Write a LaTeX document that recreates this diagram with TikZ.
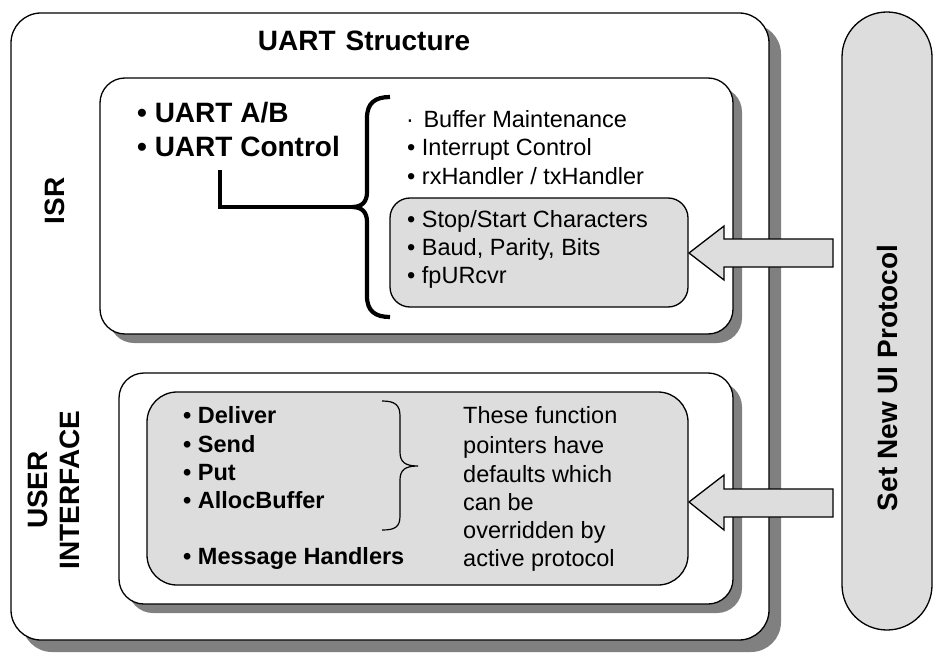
\documentclass[tikz,border=0pt]{standalone}
\usepackage{fontspec}
\setmainfont{Liberation Sans}
\definecolor{shadowc}{HTML}{808080}
\definecolor{fillc}{HTML}{DDDDDD}
\tikzset{
  wbox/.style={draw=black, line width=1.3pt, fill=white},
  gbox/.style={draw=black, line width=1.3pt, fill=fillc},
  shad/.style={fill=shadowc, draw=none},
  txt/.style={anchor=base west, inner sep=0pt, font=\fontsize{23.5}{28}\selectfont},
  btxt/.style={anchor=base west, inner sep=0pt, font=\bfseries\fontsize{23.5}{28}\selectfont},
  big/.style={anchor=base west, inner sep=0pt, font=\bfseries\fontsize{28}{32}\selectfont},
  sidelabel/.style={rotate=90, inner sep=0pt, align=center, font=\bfseries\fontsize{28}{32}\selectfont},
  blockarrow/.style={draw=black, line width=1.3pt, fill=fillc, line join=miter},
}
\begin{document}
\begin{tikzpicture}[x=1pt,y=-1pt]
\useasboundingbox (0,0) rectangle (936,655);
% outer box
\fill[shad, rounded corners=30pt] (22,24) rectangle (781,652);
\draw[wbox, rounded corners=30pt] (11,13) rectangle (769,640);
\node[font=\bfseries\fontsize{28}{32}\selectfont, anchor=base, inner sep=0pt] (title) at (364,51) {UART\hspace{10pt}Structure};
% ISR box
\fill[shad, rounded corners=25pt] (109,87) rectangle (742,343);
\draw[wbox, rounded corners=25pt] (100,78) rectangle (733,334);
\node[sidelabel] (isr) at (55,201) {ISR};
\node[big] (uab) at (137,123) {• UART A/B};
\node[big] (uctrl) at (137,157) {• UART Control};
\node[txt] (buf) at (406,128) {·\hspace{3pt} Buffer Maintenance};
\node[txt] (intc) at (407,156) {• Interrupt Control};
\node[txt] (rxh) at (407,185) {• rxHandler / txHandler};
\draw[gbox, rounded corners=20pt] (390,198) rectangle (688,307);
\node[txt] (ssc) at (407,227) {• Stop/Start Characters};
\node[txt] (bpb) at (407,255) {• Baud, Parity, Bits};
\node[txt] (fpu) at (407,283) {• fpURcvr};
% big brace
\coordinate (bt) at (352,207);
\coordinate (st) at (220,170);
\draw[line width=4.2pt, line cap=butt]
  (390,97) .. controls (375,97) and (367,103) .. (367,118) -- (367,192)
  .. controls (367,202) and (362,207) .. (bt)
  .. controls (362,207) and (367,212) .. (367,222) -- (367,296)
  .. controls (367,311) and (375,317) .. (390,317);
\draw[line width=4.2pt, line join=miter] (st) |- (bt);
% UI box
\fill[shad, rounded corners=25pt] (128,382) rectangle (742,613);
\draw[wbox, rounded corners=25pt] (119,373) rectangle (733,604);
\node[sidelabel] (ui) at (54,490) {USER\\INTERFACE};
\draw[gbox, rounded corners=30pt] (147,392) rectangle (688,585);
\node[btxt] (del) at (183,423) {• Deliver};
\node[btxt] (snd) at (183,452) {• Send};
\node[btxt] (put) at (183,480) {• Put};
\node[btxt] (alb) at (183,508) {• AllocBuffer};
\node[btxt] (msg) at (183,564) {• Message Handlers};
\draw[line width=1.2pt]
  (382,401) .. controls (395,401) and (400,405) .. (400,416) -- (400,452)
  .. controls (400,462) and (405,466) .. (418,466)
  .. controls (405,466) and (400,470) .. (400,480) -- (400,516)
  .. controls (400,527) and (395,530) .. (382,530);
\node[txt] (n1) at (463,423) {These function};
\node[txt] (n2) at (463,453) {pointers have};
\node[txt] (n3) at (463,482) {defaults which};
\node[txt] (n4) at (463,510) {can be};
\node[txt] (n5) at (463,538) {overridden by};
\node[txt] (n6) at (463,566) {active protocol};
% pill
\draw[gbox, rounded corners=45pt] (842,12) rectangle (932,630);
\node[sidelabel] (proto) at (887,378) {Set New UI Protocol};
% block arrows
\draw[blockarrow] (689,253) -- (724,226) -- (724,239) -- (833,239) -- (833,267) -- (724,267) -- (724,280) -- cycle;
\draw[blockarrow] (689,502) -- (724,475) -- (724,489) -- (833,489) -- (833,517) -- (724,517) -- (724,530) -- cycle;
\end{tikzpicture}
\end{document}
